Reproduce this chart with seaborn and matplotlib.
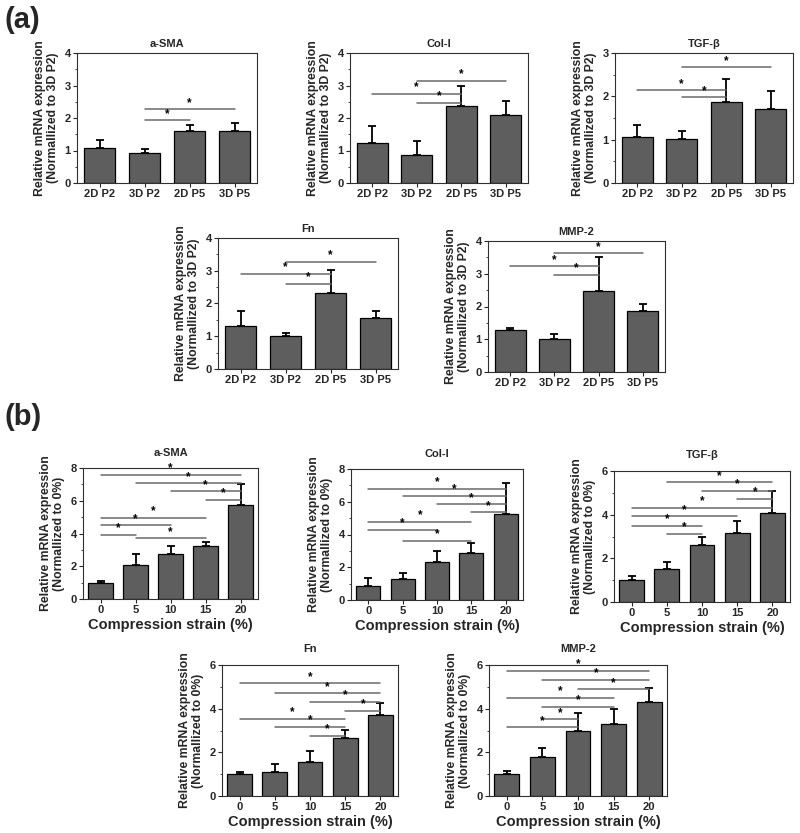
import numpy as np
import matplotlib
matplotlib.use("Agg")
import matplotlib.pyplot as plt
from matplotlib.ticker import MultipleLocator
import seaborn as sns

# ---- data (a): culture condition ----
cats_a = ['2D P2', '3D P2', '2D P5', '3D P5']

asma_a_mean = [1.09, 0.93, 1.61, 1.59]
asma_a_err = [0.22, 0.13, 0.19, 0.26]
asma_a_sig = [(1, 2, 1.93), (1, 3, 2.27)]

col_a_mean = [1.22, 0.87, 2.36, 2.08]
col_a_err = [0.54, 0.43, 0.64, 0.43]
col_a_sig = [(0, 2, 2.74), (1, 2, 2.46), (1, 3, 3.15)]

tgf_a_mean = [1.06, 1.01, 1.88, 1.71]
tgf_a_err = [0.27, 0.18, 0.51, 0.42]
tgf_a_sig = [(0, 2, 2.14), (1, 2, 1.98), (1, 3, 2.67)]

fn_a_mean = [1.32, 1.00, 2.33, 1.55]
fn_a_err = [0.45, 0.10, 0.70, 0.21]
fn_a_sig = [(0, 2, 2.90), (1, 2, 2.60), (1, 3, 3.27)]

mmp_a_mean = [1.27, 1.00, 2.47, 1.85]
mmp_a_err = [0.07, 0.15, 1.03, 0.24]
mmp_a_sig = [(0, 2, 3.23), (1, 2, 2.96), (1, 3, 3.62)]

# ---- data (b): compression strain ----
cats_b = ['0', '5', '10', '15', '20']

asma_b_mean = [0.95, 2.10, 2.72, 3.22, 5.72]
asma_b_err = [0.12, 0.62, 0.50, 0.28, 1.30]
asma_b_sig = [(0, 4, 7.60), (1, 4, 7.07), (2, 4, 6.58), (3, 4, 6.05),
              (0, 3, 4.95), (0, 2, 4.49), (0, 1, 3.92), (1, 3, 3.70)]

col_b_mean = [0.83, 1.30, 2.33, 2.87, 5.23]
col_b_err = [0.49, 0.37, 0.67, 0.60, 1.90]
col_b_sig = [(0, 4, 6.78), (1, 4, 6.36), (2, 4, 5.85), (3, 4, 5.35),
             (0, 3, 4.79), (0, 2, 4.30), (1, 3, 3.60)]

tgf_b_mean = [1.00, 1.49, 2.60, 3.14, 4.06]
tgf_b_err = [0.19, 0.35, 0.36, 0.58, 1.02]
tgf_b_sig = [(1, 4, 5.48), (2, 4, 5.08), (3, 4, 4.72), (0, 4, 4.32),
             (0, 3, 3.92), (0, 2, 3.49), (1, 2, 3.11)]

fn_b_mean = [1.00, 1.10, 1.56, 2.66, 3.70]
fn_b_err = [0.10, 0.35, 0.51, 0.36, 0.54]
fn_b_sig = [(0, 4, 5.16), (1, 4, 4.70), (2, 4, 4.30), (3, 4, 3.89),
            (0, 3, 3.54), (1, 3, 3.17), (2, 3, 2.77)]

mmp_b_mean = [1.00, 1.79, 2.99, 3.29, 4.29]
mmp_b_err = [0.15, 0.43, 0.82, 0.68, 0.64]
mmp_b_sig = [(0, 4, 5.73), (1, 4, 5.31), (2, 4, 4.89), (0, 3, 4.50),
             (1, 3, 4.09), (1, 2, 3.51), (0, 2, 3.14)]

sns.set_style("ticks")
plt.rcParams['font.family'] = ['Liberation Sans', 'DejaVu Sans']
plt.rcParams['font.weight'] = 'bold'

W, H = 800, 833
fig = plt.figure(figsize=(8, 8.33), dpi=100)


def add_ax(x0, y0, x1, y1):
    return fig.add_axes([x0 / W, 1 - y1 / H, (x1 - x0) / W, (y1 - y0) / H])


def draw(ax, cats, mean, err, sig, title, ymax, ystep, ylabel, xlabel=None):
    sns.barplot(x=cats, y=mean, ax=ax, color='#5e5e5e', saturation=1,
                edgecolor='black', linewidth=0.9, width=0.7, errorbar=None)
    n = len(cats)
    ax.errorbar(np.arange(n), mean, yerr=[np.zeros(n), err], fmt='none',
                ecolor='black', elinewidth=1.3, capsize=3.2, capthick=1.3)
    for i, j, y in sig:
        ax.plot([i, j], [y, y], color='#6a6a6a', lw=1.1)
        ax.text((i + j) / 2, y + ymax * 0.004, '*', ha='center', va='bottom',
                fontsize=8.5, color='black')
    ax.set_xlim(-0.5, n - 0.5)
    ax.set_ylim(0, ymax)
    ax.yaxis.set_major_locator(MultipleLocator(ystep))
    ax.yaxis.set_minor_locator(MultipleLocator(ystep / 2))
    ax.tick_params(axis='both', labelsize=8, length=3, width=0.8, pad=1.5)
    ax.tick_params(axis='y', which='minor', length=1.5, width=0.6)
    for lab in ax.get_xticklabels() + ax.get_yticklabels():
        lab.set_fontweight('bold')
    for s in ax.spines.values():
        s.set_visible(True)
        s.set_linewidth(0.8)
        s.set_color('#303030')
    ax.set_title(title, fontsize=8, fontweight='bold',
                 pad=9 if xlabel else 4)
    ax.set_ylabel(ylabel, fontsize=8.8, fontweight='bold', labelpad=4,
                  linespacing=1.05)
    if xlabel:
        ax.set_xlabel(xlabel, fontsize=10.5, fontweight='bold', labelpad=2)
    else:
        ax.set_xlabel('')


ylab_a = 'Relative mRNA expression\n(Normallized to 3D P2)'
ylab_b = 'Relative mRNA expression\n(Normallized to 0%)'
xlab_b = 'Compression strain (%)'

draw(add_ax(77, 53, 257, 183), cats_a, asma_a_mean, asma_a_err, asma_a_sig, 'a-SMA', 4, 1, ylab_a)
draw(add_ax(350, 53, 528, 183), cats_a, col_a_mean, col_a_err, col_a_sig, 'Col-I', 4, 1, ylab_a)
draw(add_ax(615, 53, 793, 183), cats_a, tgf_a_mean, tgf_a_err, tgf_a_sig, 'TGF-β', 3, 1, ylab_a)
draw(add_ax(218, 238, 398, 369), cats_a, fn_a_mean, fn_a_err, fn_a_sig, 'Fn', 4, 1, ylab_a)
draw(add_ax(488, 241, 665, 372), cats_a, mmp_a_mean, mmp_a_err, mmp_a_sig, 'MMP-2', 4, 1, ylab_a)

draw(add_ax(83, 468, 258, 599), cats_b, asma_b_mean, asma_b_err, asma_b_sig, 'a-SMA', 8, 2, ylab_b, xlab_b)
draw(add_ax(351, 469, 523, 600), cats_b, col_b_mean, col_b_err, col_b_sig, 'Col-I', 8, 2, ylab_b, xlab_b)
draw(add_ax(614, 471, 790, 602), cats_b, tgf_b_mean, tgf_b_err, tgf_b_sig, 'TGF-β', 6, 2, ylab_b, xlab_b)
draw(add_ax(222, 665, 398, 796), cats_b, fn_b_mean, fn_b_err, fn_b_sig, 'Fn', 6, 2, ylab_b, xlab_b)
draw(add_ax(489, 665, 667, 796), cats_b, mmp_b_mean, mmp_b_err, mmp_b_sig, 'MMP-2', 6, 2, ylab_b, xlab_b)

fig.text(4 / W, 1 - 20 / H, '(a)', fontsize=21, fontweight='bold', va='center', ha='left')
fig.text(4 / W, 1 - 417 / H, '(b)', fontsize=21, fontweight='bold', va='center', ha='left')

fig.savefig('out.png', dpi=100, facecolor='white')
